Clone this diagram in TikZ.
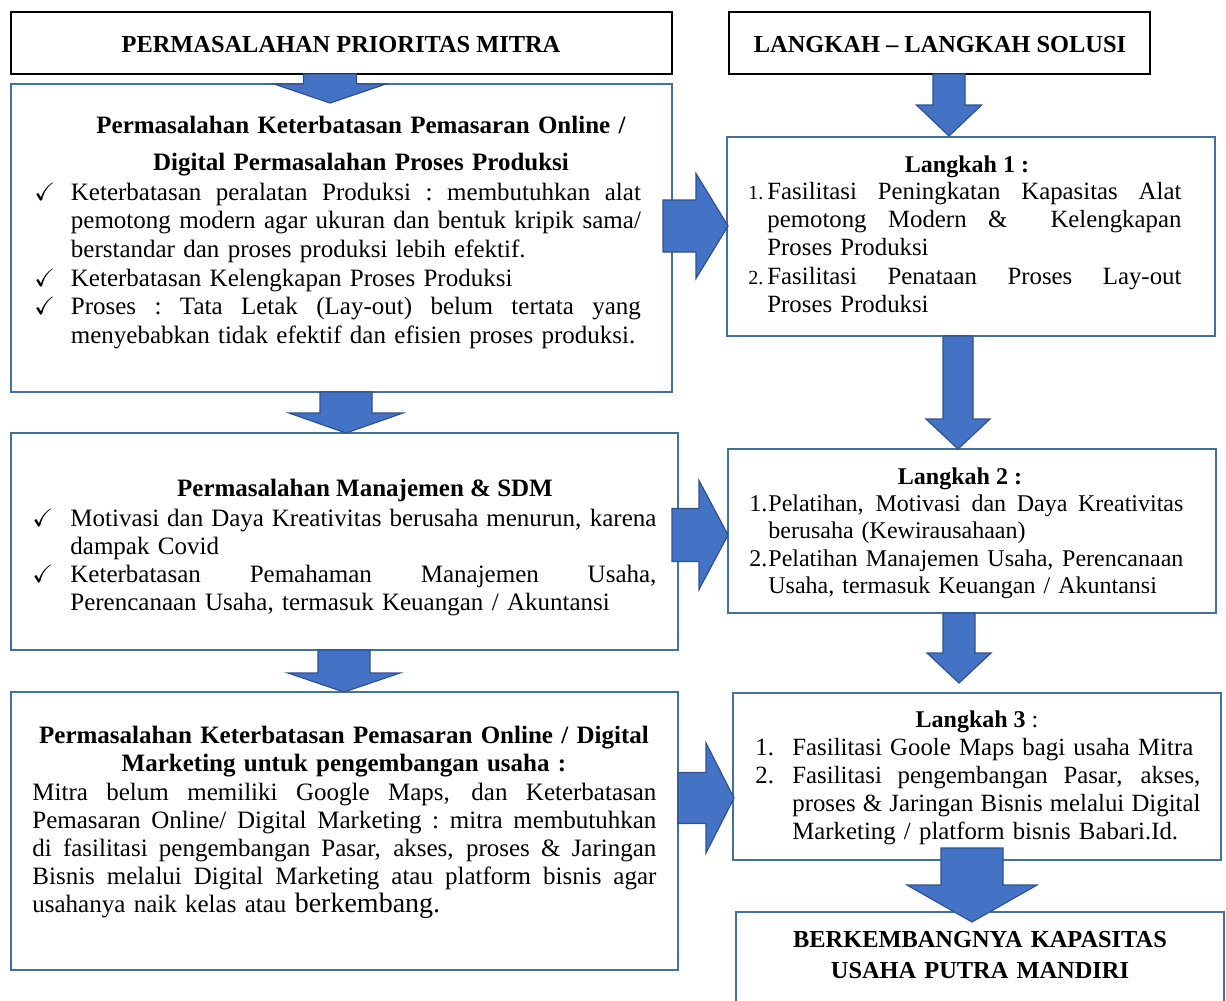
\documentclass[tikz,border=0pt]{standalone}
\usepackage{fontspec}
\setmainfont{Liberation Serif}
\usepackage{amssymb}
\usetikzlibrary{calc,fit}

\definecolor{boxblue}{HTML}{41719C}
\definecolor{arrowfill}{HTML}{4472C4}
\definecolor{arrowline}{HTML}{2F528F}

\tikzset{
  ttlbox/.style={draw=black, line width=1.2pt, inner sep=0, outer sep=0},
  bluebox/.style={draw=boxblue, line width=0.8pt, inner sep=0, outer sep=0},
  blk/.style={fill=arrowfill, draw=arrowline, line width=0.6pt, line join=miter},
  txt/.style={font=\fontsize{12}{14.1}\selectfont, inner sep=0, anchor=base west, align=left},
  ltxt/.style={txt, font=\fontsize{12.5}{14.1}\selectfont},
  hd/.style={font=\bfseries\fontsize{12.2}{14}\selectfont, inner sep=0, anchor=base, align=center},
  lhd/.style={hd, font=\bfseries\fontsize{12.5}{14}\selectfont},
  chk/.style={font=\fontsize{12.5}{14}\selectfont, inner sep=0, anchor=base west},
  num/.style={font=\fontsize{12}{14}\selectfont, inner sep=0, anchor=base west},
}

%% justified line
\newcommand{\jl}[1]{\leavevmode\hbox to\hsize{\spaceskip=\fontdimen2\font plus 1fil\relax
  \xspaceskip=\spaceskip #1}}
%% block arrows: start, tip, shaft half, head half, head length (pt)
\newcommand{\dnblock}[5]{%
  \filldraw[blk] let \p1=(#1), \p2=(#2) in
    (\x2-#3pt,\y1) -- (\x2+#3pt,\y1) -- (\x2+#3pt,\y2+#5pt) -- (\x2+#4pt,\y2+#5pt)
    -- (\x2,\y2) -- (\x2-#4pt,\y2+#5pt) -- (\x2-#3pt,\y2+#5pt) -- cycle;}
\newcommand{\rtblock}[5]{%
  \filldraw[blk] let \p1=(#1), \p2=(#2) in
    (\x1,\y2+#3pt) -- (\x2-#5pt,\y2+#3pt) -- (\x2-#5pt,\y2+#4pt) -- (\x2,\y2)
    -- (\x2-#5pt,\y2-#4pt) -- (\x2-#5pt,\y2-#3pt) -- (\x1,\y2-#3pt) -- cycle;}

\begin{document}
\begin{tikzpicture}[x=0.5pt,y=-0.5pt]
    \useasboundingbox (0,0) rectangle (1226,1001);
    %% Boxes
    \node[ttlbox, fit={(11,12) (672,74)}] (ttl1) {};
    \node[bluebox, fit={(11,84) (672,392)}] (box1) {};
    \node[bluebox, fit={(11,433) (678,650)}] (box2) {};
    \node[bluebox, fit={(11,692) (678,970)}] (box3) {};
    \node[ttlbox, fit={(729,12) (1150,74)}] (ttl2) {};
    \node[bluebox, fit={(727,137) (1215,336)}] (step1) {};
    \node[bluebox, fit={(728,449) (1216,613)}] (step2) {};
    \node[bluebox, fit={(733,693) (1221,860)}] (step3) {};
    \node[bluebox, fit={(736,912) (1224,1012)}] (goal) {};

    %% Titles
    \node[hd] (ttl1txt) at (341,52) {PERMASALAHAN PRIORITAS MITRA};
    \node[hd] (ttl2txt) at (940,52) {LANGKAH – LANGKAH SOLUSI};

    %% Left column
    \node[lhd, text width=330pt, font=\bfseries\fontsize{12.5}{18.5}\selectfont] (h1) at (361,133)
        {Permasalahan Keterbatasan Pemasaran Online /\\ Digital Permasalahan Proses Produksi};
    \node[chk] (c11) at (34,200) {$\checkmark$};
    \node[ltxt, text width=285pt, font=\fontsize{12.5}{14.3}\selectfont] (i11) at (70.5,200)
        {\jl{Keterbatasan peralatan Produksi : membutuhkan alat}\\
         \jl{pemotong modern agar ukuran dan bentuk kripik sama/}\\
         berstandar dan proses produksi lebih efektif.};
    \node[chk] (c12) at (34,286) {$\checkmark$};
    \node[ltxt, text width=285pt] (i12) at (70.5,286) {Keterbatasan Kelengkapan Proses Produksi};
    \node[chk] (c13) at (34,314.5) {$\checkmark$};
    \node[ltxt, text width=285pt, font=\fontsize{12.5}{14.3}\selectfont] (i13) at (70.5,314.5)
        {\jl{Proses : Tata Letak (Lay-out) belum tertata yang}\\
         menyebabkan tidak efektif dan efisien proses produksi.};

    \node[lhd] (h2) at (365,496) {Permasalahan Manajemen \& SDM};
    \node[chk] (c21) at (32,526) {$\checkmark$};
    \node[ltxt, text width=293pt] (i21) at (70,526)
        {\jl{Motivasi dan Daya Kreativitas berusaha menurun, karena}\\ dampak Covid};
    \node[chk] (c22) at (32,582) {$\checkmark$};
    \node[ltxt, text width=293pt] (i22) at (70,582)
        {\jl{Keterbatasan Pemahaman Manajemen Usaha,}\\
         Perencanaan Usaha, termasuk Keuangan / Akuntansi};

    \node[lhd, text width=330pt] (h3) at (344,743)
        {Permasalahan Keterbatasan Pemasaran Online / Digital\\ Marketing untuk pengembangan usaha :};
    \node[ltxt, text width=312pt] (i31) at (32,800)
        {\jl{Mitra belum memiliki Google Maps, dan Keterbatasan}\\
         \jl{Pemasaran Online/ Digital Marketing : mitra membutuhkan}\\
         \jl{di fasilitasi pengembangan Pasar, akses, proses \& Jaringan}\\
         \jl{Bisnis melalui Digital Marketing atau platform bisnis agar}\\
         usahanya naik kelas atau {\fontsize{14}{14}\selectfont berkembang.}};

    %% Right column
    \node[hd, font=\bfseries\fontsize{12}{14}\selectfont] (s1h) at (967,172) {Langkah 1 :};
    \node[num, font=\fontsize{10}{12}\selectfont] (n11) at (748,199) {1.};
    \node[txt, text width=207pt, font=\fontsize{12.4}{14.1}\selectfont] (s11) at (767,199)
        {\jl{Fasilitasi Peningkatan Kapasitas Alat}\\
         \jl{pemotong Modern \& \hskip\spaceskip Kelengkapan}\\
         Proses Produksi};
    \node[num, font=\fontsize{10}{12}\selectfont] (n12) at (748,284) {2.};
    \node[txt, text width=207pt, font=\fontsize{12.4}{14.1}\selectfont] (s12) at (767,284)
        {\jl{Fasilitasi Penataan Proses Lay-out}\\ Proses Produksi};

    \node[hd, font=\bfseries\fontsize{12}{14}\selectfont] (s2h) at (960,484) {Langkah 2 :};
    \node[num] (n21) at (749,511) {1.};
    \node[txt, text width=207.5pt, font=\fontsize{12}{13.85}\selectfont] (s21) at (768,511)
        {\jl{Pelatihan, Motivasi dan Daya Kreativitas}\\ berusaha (Kewirausahaan)};
    \node[num] (n22) at (749,566) {2.};
    \node[txt, text width=207.5pt, font=\fontsize{12}{13.85}\selectfont] (s22) at (768,566)
        {\jl{Pelatihan Manajemen Usaha, Perencanaan}\\ Usaha, termasuk Keuangan / Akuntansi};

    \node[hd, font=\fontsize{12}{14}\selectfont] (s3h) at (977,727) {\textbf{Langkah 3} :};
    \node[num, font=\fontsize{12.4}{14}\selectfont] (n31) at (755,755) {1.};
    \node[txt, text width=204pt, font=\fontsize{12.4}{14}\selectfont] (s31) at (792,755)
        {Fasilitasi Goole Maps bagi usaha Mitra};
    \node[num, font=\fontsize{12.4}{14}\selectfont] (n32) at (755,783) {2.};
    \node[txt, text width=204pt, font=\fontsize{12.4}{14}\selectfont] (s32) at (792,783)
        {\jl{Fasilitasi pengembangan Pasar, akses,}\\
         \jl{proses \& Jaringan Bisnis melalui Digital}\\
         Marketing / platform bisnis Babari.Id.};

    \node[hd, text width=240pt, font=\bfseries\fontsize{12.2}{15.5}\selectfont] (goaltxt) at (980,947)
        {BERKEMBANGNYA KAPASITAS\\ USAHA PUTRA MANDIRI};

    %% Arrow tips
    \coordinate (d1) at (330,103);
    \coordinate (d2) at (346,433);
    \coordinate (d3) at (344,692);
    \coordinate (d4) at (949,136);
    \coordinate (d5) at (958,449);
    \coordinate (d6) at (959,683);
    \coordinate (d7) at (972,922);
    \coordinate (r1) at (728,226);
    \coordinate (r2) at (728,535);
    \coordinate (r3) at (734,798);

    %% Arrows
    \dnblock{ttl1.south}{d1}{13.25}{28}{9.5}
    \dnblock{box1.south}{d2}{13}{28.5}{10}
    \dnblock{box2.south}{d3}{13}{28}{9.5}
    \dnblock{ttl2.south}{d4}{8}{16.25}{15.5}
    \dnblock{step1.south}{d5}{7.5}{16}{15}
    \dnblock{step2.south}{d6}{8}{16}{15}
    \dnblock{[yshift=6pt]step3.south}{d7}{15.5}{32.5}{18.5}
    \rtblock{[xshift=-4.5pt]box1.east}{r1}{13}{26.25}{16}
    \rtblock{[xshift=-3pt]box2.east}{r2}{13.25}{27.25}{14.5}
    \rtblock{box3.east}{r3}{12.75}{27.5}{14}
\end{tikzpicture}
\end{document}
